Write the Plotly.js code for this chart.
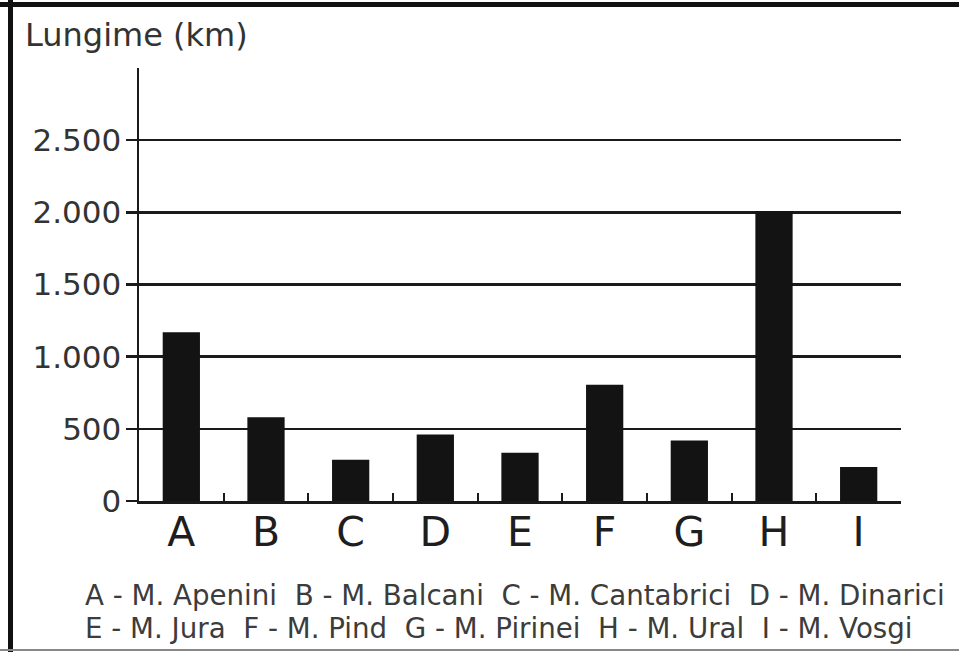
<!DOCTYPE html>
<html>
<head>
<meta charset="utf-8">
<script src="https://cdn.plot.ly/plotly-3.0.1.min.js"></script>
<style>
  html, body { margin: 0; padding: 0; background: #fff; }
  #chart { width: 959px; height: 652px; }
</style>
</head>
<body>
<div id="chart"></div>
<script>
// Data
const categories = ["A", "B", "C", "D", "E", "F", "G", "H", "I"];
const lengths = [1170, 580, 285, 460, 335, 805, 420, 2010, 235];
const yTickValues = [0, 500, 1000, 1500, 2000, 2500];
const yTickLabels = ["0", "500", "1.000", "1.500", "2.000", "2.500"];
const yTitle = "Lungime (km)";
const legendLine1 = "A - M. Apenini  B - M. Balcani  C - M. Cantabrici  D - M. Dinarici";
const legendLine2 = "E - M. Jura  F - M. Pind  G - M. Pirinei  H - M. Ural  I - M. Vosgi";

// Layout geometry (pixels)
const W = 959, H = 652;
const M = { l: 139, r: 58, t: 68, b: 151 };
const plotW = W - M.l - M.r, plotH = H - M.t - M.b;
const px2x = p => (p - M.l) / plotW;
const py2y = p => (H - M.b - p) / plotH;

const FONT = "DejaVu Sans, Verdana, sans-serif";
const INK = "#1a1a1a";

const trace = {
  type: "bar",
  x: categories,
  y: lengths,
  marker: { color: "#131313", line: { width: 0 } },
  hoverinfo: "x+y"
};

const layout = {
  width: W,
  height: H,
  margin: M,
  paper_bgcolor: "#ffffff",
  plot_bgcolor: "#ffffff",
  showlegend: false,
  bargap: 0.56,
  font: { family: FONT, color: "#333" },
  title: {
    text: yTitle,
    font: { family: FONT, size: 32, color: "#333" },
    xref: "container", yref: "container",
    x: 25 / W, xanchor: "left",
    y: 1 - 35 / H, yanchor: "middle"
  },
  xaxis: {
    type: "category",
    range: [-0.5, categories.length - 0.5],
    showline: true, linecolor: INK, linewidth: 3,
    ticks: "inside", tickson: "boundaries", ticklen: 8, tickwidth: 2, tickcolor: INK,
    showgrid: false, zeroline: false,
    ticklabelstandoff: -7,
    tickfont: { family: FONT, size: 41, color: "#1e1e1e" },
    fixedrange: true
  },
  yaxis: {
    range: [0, 3000],
    tickvals: yTickValues,
    ticktext: yTickLabels,
    showline: true, linecolor: INK, linewidth: 2.5,
    ticks: "outside", ticklen: 11, tickwidth: 2.5, tickcolor: INK,
    showgrid: true, gridcolor: INK, gridwidth: 2.5,
    zeroline: false,
    ticklabelstandoff: -2,
    tickfont: { family: FONT, size: 31, color: "#333" },
    fixedrange: true
  },
  annotations: [
    { text: legendLine1, xref: "paper", yref: "paper", x: px2x(83), y: py2y(595),
      xanchor: "left", yanchor: "middle", showarrow: false,
      font: { family: FONT, size: 27.7, color: "#3c3c3c" } },
    { text: legendLine2, xref: "paper", yref: "paper", x: px2x(83), y: py2y(628),
      xanchor: "left", yanchor: "middle", showarrow: false,
      font: { family: FONT, size: 27.7, color: "#3c3c3c" } }
  ],
  shapes: [
    { type: "line", xref: "paper", yref: "paper", x0: px2x(0), x1: px2x(W), y0: py2y(4.5), y1: py2y(4.5),
      line: { color: "#111", width: 5 } },
    { type: "line", xref: "paper", yref: "paper", x0: px2x(10.5), x1: px2x(10.5), y0: py2y(0), y1: py2y(H),
      line: { color: "#111", width: 5 } },
    { type: "line", xref: "paper", yref: "paper", x0: px2x(0), x1: px2x(W), y0: py2y(650), y1: py2y(650),
      line: { color: "#888", width: 2 } }
  ]
};

Plotly.newPlot("chart", [trace], layout, { displayModeBar: false, staticPlot: true });
</script>
</body>
</html>
